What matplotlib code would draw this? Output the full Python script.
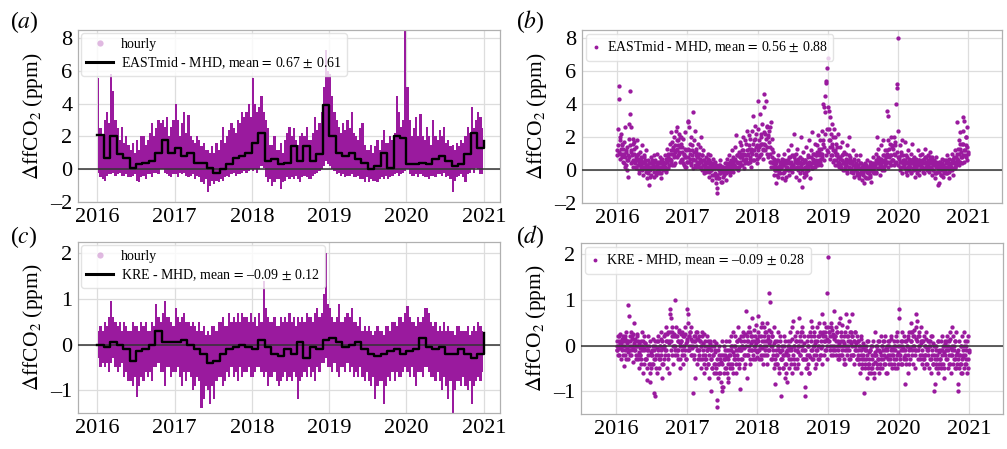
import matplotlib
matplotlib.use("Agg")
import matplotlib.pyplot as plt
from matplotlib.lines import Line2D

# ---------------- data ----------------
years = [2016, 2017, 2018, 2019, 2020, 2021]

# EASTmid - MHD monthly means (2016-01 .. 2020-12)
east_monthly = [2.1, 0.7, 2.0, 0.9, 0.7, 0.1, 0.3, 0.4, 0.5, 1.0, 1.8, 1.0,
                1.3, 0.8, 1.0, 0.4, 0.4, 0.1, -0.2, 0.0, 0.3, 0.7, 0.8, 1.0,
                1.6, 2.2, 0.5, 0.6, 0.3, 0.4, 1.4, 0.5, 1.4, 0.5, 0.9, 3.9,
                2.0, 1.0, 0.8, 1.0, 0.6, 0.4, 0.0, 0.2, 1.0, 0.1, 2.0, 1.9,
                0.3, 0.3, 0.4, 0.3, 0.6, 0.8, 0.5, 0.2, 0.3, 0.9, 2.2, 1.3]
east_monthly_end = 1.7

# KRE - MHD monthly means
kre_monthly = [0.0, -0.05, 0.05, 0.0, -0.1, -0.35, -0.15, -0.1, 0.0, 0.3, 0.05, 0.05,
               0.05, 0.1, 0.0, -0.1, -0.2, -0.4, -0.35, -0.2, -0.1, -0.05, 0.0, -0.05,
               -0.1, 0.1, -0.05, -0.2, -0.25, -0.1, -0.2, 0.05, -0.3, -0.05, -0.1, 0.1,
               0.15, 0.05, -0.05, 0.0, 0.05, -0.1, -0.2, -0.25, -0.2, -0.15, -0.1, -0.2,
               -0.15, -0.1, 0.15, -0.05, -0.1, -0.05, -0.2, -0.2, -0.1, -0.2, -0.3, -0.2]
kre_monthly_end = 0.25

# hourly envelope (upper / lower), three 10-day bins per month
east_hourly_hi = [
    [5.6, 2.5, 2.0], [3.0, 3.5, 2.8], [5.8, 4.8, 3.0], [2.5, 1.8, 2.6], [1.6, 2.0, 1.5], [1.2, 1.6, 1.0],
    [1.8, 1.2, 2.0], [2.0, 1.5, 1.8], [2.2, 2.8, 2.0], [2.5, 3.0, 2.8], [3.0, 2.6, 3.2], [2.0, 2.6, 3.0],
    [4.0, 3.0, 2.0], [2.8, 3.5, 2.2], [3.3, 2.0, 1.8], [1.6, 2.0, 1.8], [1.4, 1.6, 1.2], [1.2, 1.0, 1.4],
    [1.0, 1.6, 1.2], [1.8, 2.6, 1.6], [2.0, 2.4, 2.8], [2.5, 2.2, 3.0], [2.8, 3.5, 3.2], [3.5, 4.0, 3.2],
    [5.6, 4.0, 3.5], [3.8, 4.5, 3.5], [3.0, 2.5, 1.5], [1.5, 2.0, 1.2], [1.2, 1.6, 1.0], [1.8, 2.2, 2.6],
    [2.0, 2.5, 1.8], [1.5, 2.0, 2.2], [2.0, 2.6, 1.8], [1.8, 2.2, 3.2], [2.4, 2.8, 3.5], [5.0, 7.3, 6.0],
    [5.8, 4.5, 3.5], [3.0, 2.6, 2.2], [2.8, 2.4, 3.0], [2.5, 3.5, 2.2], [2.0, 1.8, 2.5], [2.8, 1.5, 1.2],
    [1.2, 1.5, 1.0], [1.4, 1.8, 1.2], [1.8, 2.4, 1.6], [1.6, 2.0, 1.8], [2.2, 4.5, 3.5], [2.6, 3.0, 8.5],
    [5.0, 3.0, 2.0], [2.5, 3.2, 2.0], [3.4, 2.0, 1.8], [2.6, 2.0, 1.5], [3.0, 2.0, 1.8], [2.4, 2.0, 2.6],
    [1.6, 1.8, 1.4], [1.5, 1.2, 1.6], [1.4, 1.8, 1.6], [2.0, 2.6, 2.2], [3.8, 2.5, 3.0], [3.5, 3.2, 2.5]]
east_hourly_lo = [
    [-0.2, -0.5, -0.6], [-0.7, -0.4, -0.3], [-0.3, -0.2, -0.4], [-0.3, -0.2, -0.4], [-0.4, -0.3, -0.5], [-0.5, -0.4, -0.3],
    [-0.7, -0.8, -0.5], [-0.4, -0.6, -0.3], [-0.3, -0.5, -0.2], [-0.2, -0.3, 0.0], [0.0, -0.2, -0.3], [-0.4, -0.5, -0.3],
    [-0.3, -0.5, -0.2], [-0.3, -0.2, -0.4], [-0.5, -0.4, -0.3], [-0.6, -0.4, -0.5], [-0.8, -0.9, -0.6], [-1.4, -1.0, -0.7],
    [-0.9, -0.7, -0.8], [-0.6, -0.7, -0.5], [-0.4, -0.5, -0.3], [-0.2, -0.4, -0.3], [-0.3, -0.2, -0.1], [-0.2, -0.1, 0.0],
    [-0.1, 0.0, -0.2], [0.0, 0.2, 0.1], [-0.5, -0.8, -0.6], [-1.0, -0.8, -0.6], [-0.6, -1.2, -0.8], [-0.7, -0.5, -0.6],
    [-0.5, -0.6, -0.4], [-0.6, -0.8, -0.5], [-0.4, -0.5, -0.6], [-0.6, -0.4, -0.3], [-0.2, -0.1, 0.0], [0.2, 0.5, 0.3],
    [0.2, 0.0, -0.1], [-0.3, -0.2, -0.4], [-0.3, -0.5, -0.4], [-0.4, -0.3, -0.5], [-0.5, -0.4, -0.6], [-0.6, -0.8, -0.5],
    [-0.8, -0.6, -0.7], [-0.7, -0.8, -0.6], [-0.5, -0.6, -0.4], [-0.6, -0.5, -0.4], [-0.3, -0.2, -0.4], [-0.3, -0.2, -0.1],
    [0.0, -0.3, -0.4], [-0.4, -0.3, -0.5], [-0.3, -0.4, -0.5], [-0.5, -0.6, -0.4], [-0.4, -0.5, -0.3], [-0.3, -0.4, -0.2],
    [-0.5, -0.4, -0.6], [-1.4, -0.7, -0.5], [-0.4, -0.3, -0.5], [-0.8, -0.3, -0.2], [0.0, -0.2, 0.1], [0.0, -0.3, -0.3]]

kre_hourly_hi = [
    [0.3, 0.4, 0.3], [0.5, 0.4, 0.6], [0.95, 0.6, 0.5], [0.4, 0.5, 0.3], [0.5, 0.4, 0.3], [0.3, 0.5, 0.4],
    [0.4, 0.3, 0.5], [0.4, 0.5, 0.3], [0.3, 0.5, 0.4], [0.9, 0.6, 0.5], [0.7, 0.95, 0.6], [0.6, 0.5, 0.4],
    [0.8, 0.6, 0.5], [0.6, 0.7, 0.5], [0.5, 0.4, 0.5], [0.4, 0.3, 0.5], [0.3, 0.4, 0.2], [0.3, 0.2, 0.4],
    [0.4, 0.3, 0.5], [0.5, 0.6, 0.4], [0.4, 0.7, 0.5], [0.6, 0.5, 0.7], [0.5, 0.7, 0.6], [0.6, 0.5, 0.7],
    [0.5, 0.6, 0.4], [0.7, 0.5, 1.4], [0.8, 0.6, 0.5], [0.5, 0.6, 0.4], [0.4, 0.6, 0.5], [0.6, 0.5, 0.7],
    [0.5, 0.6, 0.4], [0.6, 0.5, 0.6], [0.5, 0.7, 0.6], [0.6, 0.5, 0.7], [0.8, 0.6, 0.7], [1.1, 2.0, 0.9],
    [0.8, 0.6, 0.5], [0.6, 0.9, 0.5], [0.5, 0.6, 0.7], [0.6, 0.8, 0.5], [0.5, 0.4, 0.6], [0.3, 0.4, 0.3],
    [0.4, 0.3, 0.2], [0.3, 0.4, 0.3], [0.3, 0.2, 0.4], [0.4, 0.3, 0.5], [0.5, 0.4, 0.6], [0.6, 0.5, 0.7],
    [0.85, 0.6, 0.5], [0.5, 0.4, 0.6], [0.5, 0.6, 0.8], [0.8, 0.7, 0.5], [0.4, 0.5, 0.3], [0.4, 0.3, 0.5],
    [0.3, 0.4, 0.3], [0.3, 0.2, 0.4], [0.4, 0.3, 0.3], [0.3, 0.4, 0.2], [0.3, 0.4, 0.3], [0.5, 0.4, 0.3]]
kre_hourly_lo = [
    [-0.3, -0.5, -0.4], [-0.5, -0.4, -0.6], [-0.4, -0.3, -0.5], [-0.6, -0.5, -0.4], [-0.7, -0.6, -0.8], [-0.8, -0.9, -0.7],
    [-1.15, -0.9, -0.7], [-0.8, -0.6, -0.7], [-0.6, -0.8, -0.5], [-0.5, -0.4, -0.6], [-0.6, -0.9, -0.5], [-0.5, -0.7, -0.6],
    [-0.6, -0.5, -0.7], [-0.9, -0.6, -0.8], [-0.6, -0.7, -1.0], [-0.9, -0.7, -0.8], [-1.4, -1.2, -0.9], [-1.0, -1.3, -0.9],
    [-1.2, -0.8, -0.7], [-0.7, -0.9, -0.8], [-0.6, -0.7, -0.5], [-0.7, -0.6, -0.8], [-0.5, -0.7, -0.6], [-0.6, -0.5, -0.7],
    [-0.7, -0.6, -0.5], [-0.5, -0.6, -0.7], [-0.6, -0.9, -0.7], [-0.7, -0.6, -0.8], [-0.9, -0.8, -0.7], [-0.6, -0.8, -0.7],
    [-0.8, -0.6, -0.7], [-1.2, -0.8, -0.7], [-0.6, -0.7, -0.5], [-0.7, -0.6, -0.8], [-0.5, -0.6, -0.4], [-0.4, -0.3, -0.5],
    [-0.5, -0.6, -0.4], [-0.6, -0.7, -0.5], [-0.5, -0.6, -0.4], [-0.6, -0.5, -0.7], [-0.6, -0.7, -0.5], [-0.7, -0.8, -0.6],
    [-0.8, -0.9, -0.7], [-1.2, -0.9, -0.8], [-0.8, -1.3, -0.9], [-0.7, -0.8, -0.6], [-0.8, -0.6, -0.7], [-0.7, -0.6, -0.5],
    [-0.6, -0.7, -0.5], [-0.7, -0.9, -0.6], [-0.6, -0.7, -0.5], [-0.5, -0.6, -0.7], [-0.7, -0.8, -0.6], [-0.8, -1.0, -0.7],
    [-0.9, -1.2, -0.8], [-1.5, -1.0, -0.8], [-0.8, -0.9, -0.7], [-0.9, -1.0, -0.8], [-1.3, -0.9, -0.8], [-0.7, -0.8, -0.6]]

# daily values: ten scattered + eight core values per month
east_daily = [
    [1.2, 2.5, 5.1, 4.3, 1.8, 1.0, 2.2, 1.5, 0.8, 1.3],
    [0.9, 1.7, 0.4, 2.6, 1.1, 0.3, 1.4, 0.6, -0.4, 1.9],
    [2.8, 4.8, 3.4, 1.2, 2.6, 0.5, 1.6, 0.2, 1.0, 1.7],
    [0.6, 1.4, 0.1, 0.9, 1.8, 0.3, 0.7, -0.2, 1.1, 0.4],
    [0.2, 0.8, 1.5, 0.5, -0.3, 0.9, 0.1, 0.6, 1.2, 0.3],
    [0.1, -0.5, 0.6, 0.2, -0.9, 0.4, 0.0, 0.8, -0.3, 0.5],
    [0.3, 0.1, 0.9, -0.4, 0.2, 0.6, -0.1, 0.4, 1.0, 0.0],
    [0.5, -0.2, 0.2, 0.8, 0.1, -0.5, 0.4, 0.7, 0.0, 0.3],
    [0.2, 0.9, 0.4, -0.1, 1.3, 0.6, 0.1, 0.8, 0.3, 1.6],
    [1.0, 2.3, 0.6, 1.7, 0.3, 1.2, 2.0, 0.8, 1.5, 0.4],
    [2.4, 1.3, 2.6, 0.9, 1.8, 2.2, 1.1, 0.5, 1.6, 2.0],
    [1.4, 0.6, 1.9, 0.3, 1.0, 2.3, 0.8, 0.2, 1.2, 0.5],
    [2.9, 3.0, 2.6, 1.2, 0.7, 2.0, 0.4, 1.5, 0.9, 0.1],
    [3.5, 1.8, 0.6, 2.4, 0.2, 1.1, 0.8, 1.6, 0.3, 1.0],
    [0.5, 1.4, 0.2, 2.0, 0.9, 0.0, 0.6, 1.2, -0.2, 0.4],
    [0.3, 0.8, -0.1, 0.5, 1.0, 0.2, -0.4, 0.6, 0.1, 0.9],
    [0.0, 0.4, -0.6, 0.2, 0.7, -0.3, 0.1, 0.5, -0.8, 0.3],
    [-1.4, -1.1, 0.1, -0.5, 0.3, -0.2, 0.6, 0.0, -0.7, 0.2],
    [-0.4, 0.1, -0.2, 0.4, 0.0, -0.6, 0.2, 0.7, -0.1, 0.3],
    [0.2, 0.9, -0.3, 0.5, 0.1, 1.2, 0.4, -0.1, 0.8, 0.3],
    [0.6, 1.4, 0.2, 2.1, 0.5, 0.9, 0.0, 1.1, 0.4, 1.7],
    [0.8, 1.5, 0.3, 1.2, 2.0, 0.6, 1.0, 0.1, 1.8, 0.5],
    [1.6, 0.9, 2.4, 0.4, 1.3, 2.1, 0.7, 1.9, 0.2, 1.1],
    [2.4, 1.2, 3.3, 0.6, 1.8, 2.7, 1.0, 2.2, 0.4, 1.5],
    [4.2, 2.5, 1.4, 3.4, 0.9, 2.0, 1.6, 2.8, 0.7, 1.2],
    [4.6, 3.8, 2.2, 1.5, 4.2, 2.7, 1.0, 2.0, 0.8, 2.4],
    [2.6, 1.4, 2.9, 0.5, 1.9, 0.2, 1.1, -0.3, 0.7, 0.1],
    [0.3, -0.8, 0.6, 0.0, 0.9, -0.4, 0.2, 0.5, -0.2, 0.4],
    [0.1, 0.7, -0.5, 0.3, 1.0, -0.1, 0.4, -0.6, 0.2, 0.6],
    [0.5, 1.2, 0.0, 0.8, -0.3, 0.4, 1.5, 0.2, 0.9, -0.1],
    [0.3, 0.9, 2.2, 0.1, 0.6, -0.4, 1.3, 0.4, 0.0, 0.7],
    [0.2, -0.6, 0.8, 2.0, 0.4, -1.0, 0.1, 1.1, 0.5, -0.2],
    [0.6, 0.1, 1.4, -0.3, 0.3, 0.9, 0.0, 1.8, 0.4, -0.5],
    [0.4, 1.2, 0.1, 2.3, 0.7, 0.2, 1.0, 0.5, 1.6, 0.3],
    [0.9, 1.5, 0.4, 2.1, 1.1, 0.6, 1.8, 0.3, 1.3, 0.8],
    [2.4, 4.0, 1.6, 3.8, 3.5, 4.5, 5.3, 5.4, 6.2, 6.8],
    [3.8, 3.6, 2.5, 3.2, 1.8, 0.9, 2.8, 1.4, 0.5, 2.0],
    [2.5, 1.2, 2.0, 0.6, 1.6, 0.3, 1.0, 2.2, 0.8, 0.4],
    [0.7, 1.4, 0.2, 0.9, 1.7, 0.4, 0.0, 1.1, 0.5, 0.2],
    [0.3, 1.0, -0.2, 1.5, 0.6, 0.1, 2.0, 0.4, 0.8, -0.1],
    [0.5, 0.0, 1.2, 0.3, -0.4, 0.7, 0.1, 0.9, 0.2, -0.3],
    [0.2, 0.6, -0.5, 0.1, 0.9, -0.2, 0.4, 0.0, -0.6, 0.3],
    [-0.3, 0.2, -0.8, 0.4, 0.0, -0.5, 0.1, 0.6, -0.2, 0.2],
    [0.1, -0.4, 0.5, 0.0, -0.7, 0.3, 0.8, -0.1, 0.2, 0.4],
    [0.3, 1.0, -0.2, 2.0, 0.6, 0.1, 1.3, 0.4, -0.3, 0.7],
    [0.5, 1.5, 0.2, 0.9, 1.8, 0.0, 0.6, 1.2, 0.3, 0.8],
    [1.2, 3.6, 3.3, 1.8, 0.5, 1.6, 0.9, 2.0, 0.3, 1.4],
    [1.5, 0.6, 2.0, 1.0, 1.7, 0.4, 4.0, 5.0, 5.2, 8.0],
    [2.4, 0.8, 1.5, 0.2, 1.1, 0.5, 1.8, -0.2, 0.9, 0.3],
    [0.6, 1.7, 0.1, 0.9, -0.3, 0.5, 1.2, 0.2, 0.7, 0.0],
    [0.4, 1.0, -0.2, 0.6, 1.6, 0.1, 0.8, 0.3, -0.4, 0.5],
    [0.2, 0.7, 0.0, 1.2, 0.4, -0.3, 0.6, 0.9, 0.1, 0.3],
    [0.5, 1.0, 0.1, 0.7, -0.2, 0.4, 1.3, 0.2, 0.8, 0.0],
    [0.3, 0.9, -0.1, 0.5, 1.1, 0.2, 0.6, -0.3, 0.8, 0.4],
    [0.0, 0.6, -0.5, 0.3, 0.8, -0.2, 0.4, -0.9, 0.1, 0.5],
    [-0.8, 0.2, 0.5, -0.3, 0.7, 0.0, 0.3, -0.4, 0.6, 0.1],
    [0.2, 0.6, -0.2, 0.9, 0.1, 0.4, -0.5, 0.7, 0.3, 0.0],
    [0.4, 1.0, 0.1, 0.7, -0.3, 0.5, 1.2, 0.2, 0.8, 0.3],
    [1.0, 2.9, 0.6, 1.8, 0.3, 1.3, 2.3, 0.8, 1.6, 0.4],
    [3.2, 2.4, 1.2, 3.0, 0.9, 2.0, 1.5, 0.6, 2.6, 1.1]]

east_daily_core = [
    [0.9, 1.5, 1.1, 2.0, 0.7, 1.3, 1.6, 1.0], [0.5, 1.0, 0.2, 0.8, 1.2, 0.0, 0.6, 0.9],
    [0.8, 1.5, 0.4, 1.1, 0.9, 1.9, 0.6, 1.3], [0.4, 0.8, 0.2, 0.6, 1.0, 0.0, 0.5, 0.3],
    [0.3, 0.6, 0.0, 0.4, 0.8, 0.2, 0.5, -0.1], [0.0, 0.3, -0.2, 0.4, 0.1, -0.4, 0.2, 0.6],
    [0.1, 0.4, -0.1, 0.2, 0.5, -0.3, 0.3, 0.0], [0.2, 0.0, 0.4, -0.2, 0.6, 0.1, 0.3, 0.5],
    [0.4, 0.2, 0.7, 0.0, 0.5, 1.0, 0.3, 0.6], [0.7, 1.2, 0.5, 1.0, 1.4, 0.3, 0.9, 1.1],
    [1.2, 1.8, 0.8, 1.5, 1.0, 2.0, 1.4, 0.6], [0.7, 1.1, 0.4, 0.9, 1.3, 0.2, 0.8, 0.5],
    [0.8, 1.3, 0.5, 1.0, 1.6, 0.3, 1.2, 0.7], [0.6, 1.1, 0.3, 0.9, 1.3, 0.5, 0.8, 0.2],
    [0.4, 0.7, 0.1, 0.5, 0.9, 0.3, 0.6, 0.0], [0.2, 0.5, 0.0, 0.4, 0.7, -0.1, 0.3, 0.5],
    [0.0, 0.3, -0.3, 0.1, 0.4, -0.2, 0.2, -0.5], [-0.3, 0.1, -0.5, 0.0, 0.3, -0.2, -0.7, 0.2],
    [-0.1, 0.2, -0.3, 0.1, 0.4, -0.2, 0.0, 0.3], [0.1, 0.4, -0.1, 0.3, 0.6, 0.0, 0.5, 0.2],
    [0.3, 0.7, 0.1, 0.5, 0.9, 0.4, 0.2, 0.8], [0.5, 1.0, 0.3, 0.8, 1.2, 0.6, 0.9, 0.4],
    [0.7, 1.2, 0.4, 1.0, 1.5, 0.8, 0.5, 1.3], [1.0, 1.6, 0.6, 1.2, 1.9, 0.9, 1.4, 0.7],
    [1.2, 1.8, 0.8, 1.5, 2.2, 1.0, 1.6, 1.3], [1.6, 2.3, 1.2, 1.9, 2.6, 1.4, 2.1, 1.7],
    [0.5, 1.0, 0.2, 0.8, 1.3, 0.4, 0.6, 0.0], [0.0, 0.4, -0.3, 0.2, 0.6, -0.1, 0.3, 0.1],
    [0.1, 0.5, -0.2, 0.3, 0.6, 0.0, 0.4, -0.4], [0.2, 0.6, 0.0, 0.4, 0.8, 0.1, 0.5, 0.3],
    [0.3, 0.8, 0.1, 0.5, 1.0, 0.2, 0.6, 0.4], [0.1, 0.5, -0.2, 0.3, 0.7, 0.0, 0.4, -0.4],
    [0.2, 0.6, -0.1, 0.4, 0.8, 0.1, 0.5, 0.3], [0.3, 0.8, 0.1, 0.6, 1.0, 0.4, 0.2, 0.9],
    [0.6, 1.1, 0.3, 0.9, 1.3, 0.5, 1.0, 0.7], [1.0, 1.8, 0.6, 1.4, 2.2, 0.9, 2.5, 1.2],
    [1.1, 1.8, 0.7, 1.4, 2.2, 0.9, 1.6, 1.2], [0.6, 1.1, 0.3, 0.9, 1.4, 0.5, 0.8, 0.2],
    [0.3, 0.8, 0.1, 0.6, 1.0, 0.4, 0.5, 0.0], [0.3, 0.7, 0.0, 0.5, 0.9, 0.2, 0.6, 0.4],
    [0.1, 0.5, -0.2, 0.3, 0.6, 0.0, 0.4, 0.2], [-0.1, 0.3, -0.3, 0.1, 0.4, -0.2, 0.2, 0.0],
    [-0.2, 0.2, -0.4, 0.0, 0.3, -0.1, 0.1, -0.5], [-0.1, 0.3, -0.3, 0.1, 0.4, 0.0, 0.2, -0.2],
    [0.2, 0.6, -0.1, 0.4, 0.8, 0.1, 0.5, 0.3], [0.3, 0.7, 0.0, 0.5, 0.9, 0.2, 0.6, 0.4],
    [0.5, 1.0, 0.2, 0.8, 1.3, 0.4, 0.9, 0.6], [0.6, 1.3, 0.3, 0.9, 1.5, 0.5, 1.1, 0.8],
    [0.3, 0.7, 0.0, 0.5, 0.9, 0.2, 0.6, 0.4], [0.2, 0.6, -0.1, 0.4, 0.8, 0.1, 0.5, 0.3],
    [0.2, 0.6, -0.1, 0.4, 0.7, 0.0, 0.5, 0.3], [0.1, 0.5, -0.2, 0.3, 0.6, 0.0, 0.4, 0.2],
    [0.2, 0.6, -0.1, 0.4, 0.8, 0.1, 0.5, 0.3], [0.2, 0.6, 0.0, 0.4, 0.8, 0.1, 0.5, 0.3],
    [0.0, 0.4, -0.2, 0.2, 0.5, -0.1, 0.3, 0.1], [-0.1, 0.3, -0.3, 0.1, 0.4, 0.0, 0.2, -0.2],
    [0.0, 0.4, -0.2, 0.2, 0.5, -0.1, 0.3, 0.1], [0.2, 0.6, 0.0, 0.4, 0.8, 0.1, 0.5, 0.3],
    [0.7, 1.3, 0.4, 1.0, 1.6, 0.5, 1.1, 0.8], [0.9, 1.6, 0.5, 1.2, 2.0, 0.8, 1.4, 1.0]]

kre_daily = [
    [0.0, -0.1, 0.2, -0.2, 0.1, 0.25, -0.05, 0.05, -0.3, 0.1],
    [-0.1, 0.2, -0.45, 0.0, 0.15, -0.2, 0.3, -0.05, 0.1, -0.3],
    [0.9, 0.65, 0.1, -0.2, 0.3, -0.1, 0.0, 0.2, -0.35, 0.05],
    [0.5, -0.1, 0.15, -0.3, 0.0, 0.25, -0.2, 0.1, -0.5, -0.05],
    [-0.2, 0.1, -0.4, 0.0, 0.3, -0.6, -0.1, 0.2, -0.3, 0.05],
    [-0.3, 0.0, -0.75, -0.1, 0.2, -0.4, -0.8, 0.1, -0.2, -0.5],
    [-0.1, -0.4, 0.15, -1.05, -0.3, 0.0, -1.1, -0.2, 0.1, -0.6],
    [-0.2, 0.2, -0.5, 0.0, -0.3, 0.3, -0.1, -0.7, 0.1, -0.4],
    [0.0, -0.3, 0.25, -0.1, 0.4, -0.5, 0.1, -0.2, 0.3, -0.6],
    [0.8, 0.7, 0.6, 0.1, -0.2, 0.3, -0.4, 0.0, 0.2, -0.1],
    [1.0, 0.4, -0.1, 0.2, -0.3, 0.1, 0.35, -0.5, 0.0, 0.25],
    [0.1, -0.2, 0.3, -0.4, 0.0, 0.2, -0.1, 0.4, -0.3, 0.15],
    [0.8, 0.7, 0.5, 0.2, -0.1, 0.3, 0.0, 0.4, -0.2, 0.1],
    [-1.05, 0.1, -0.3, 0.2, -0.7, 0.0, 0.3, -0.4, 0.15, -0.1],
    [0.2, -0.2, 0.1, -0.5, 0.0, 0.3, -0.3, -0.1, 0.25, -0.6],
    [-0.3, 0.1, -0.5, -0.1, 0.2, -0.4, 0.0, -0.7, -0.2, 0.1],
    [-1.0, -0.3, 0.0, -0.5, -0.2, 0.1, -0.6, -0.1, -0.4, 0.05],
    [-1.2, -1.35, -0.4, -0.1, -0.6, 0.0, -0.3, -0.8, -0.2, 0.1],
    [-1.0, -0.9, -0.3, 0.0, -0.5, -0.2, 0.1, -0.6, -0.1, -0.4],
    [-0.8, -0.2, 0.1, -0.4, 0.2, -0.1, -0.5, 0.0, 0.3, -0.3],
    [0.0, -0.3, 0.2, -0.6, 0.1, -0.2, 0.4, -0.1, -0.4, 0.15],
    [-0.95, -0.1, 0.2, -0.3, 0.0, 0.3, -0.5, 0.1, -0.2, 0.25],
    [0.75, 0.1, -0.7, 0.3, -0.2, 0.0, 0.4, -0.4, 0.2, -0.1],
    [0.6, 0.2, -0.3, 0.1, 0.35, -0.1, 0.0, 0.45, -0.25, 0.15],
    [0.65, 0.3, -0.1, 0.2, 0.0, 0.4, -0.3, 0.1, 0.5, -0.2],
    [0.1, 0.4, -0.2, 0.3, 0.0, 0.5, -0.4, 0.2, -0.1, 0.35],
    [1.15, 0.95, 0.3, 0.0, -0.3, 0.2, -0.1, 0.4, -0.5, 0.1],
    [-0.85, -0.2, 0.1, -0.4, 0.0, 0.3, -0.6, -0.1, 0.2, -0.3],
    [-1.1, -0.3, 0.0, -0.5, 0.2, -0.2, -0.7, 0.1, -0.4, -0.1],
    [-0.8, -0.2, 0.1, -0.5, 0.0, 0.3, -0.3, -0.1, 0.4, -0.6],
    [0.55, 0.0, -0.3, 0.2, -0.5, 0.1, -0.1, 0.3, -0.4, 0.0],
    [0.6, 0.1, -0.2, 0.3, -0.6, 0.0, 0.4, -0.3, 0.2, -0.1],
    [-0.9, -1.1, -0.3, 0.1, -0.5, 0.0, 0.2, -0.2, -0.6, 0.3],
    [0.55, 0.2, -0.1, 0.4, -0.3, 0.0, 0.3, -0.5, 0.1, -0.2],
    [0.4, -0.1, 0.2, 0.0, 0.5, -0.3, 0.3, -0.2, 0.1, 0.25],
    [0.7, 0.3, 0.1, 0.5, -0.1, 0.2, 0.4, 0.0, 1.15, 1.95],
    [0.4, 0.1, 0.3, 0.0, 0.5, -0.2, 0.2, 0.35, -0.1, 0.15],
    [0.75, 0.2, -0.1, 0.4, 0.0, 0.3, -0.3, 0.1, 0.5, -0.2],
    [0.6, 0.1, 0.3, -0.2, 0.45, 0.0, 0.2, -0.4, 0.3, -0.1],
    [0.7, 0.4, -0.1, 0.2, 0.0, 0.55, -0.3, 0.1, 0.3, -0.2],
    [0.7, 0.2, -0.2, 0.1, -0.4, 0.3, 0.0, -0.1, 0.2, -0.3],
    [-0.2, 0.1, -0.4, 0.0, -0.6, -0.1, 0.2, -0.3, -0.5, 0.05],
    [-1.05, -0.3, -0.1, -0.5, 0.0, -0.2, -0.7, -0.4, 0.1, -0.6],
    [-0.4, -0.1, -0.6, 0.0, -0.3, -0.5, 0.1, -0.2, -0.7, -0.35],
    [0.3, -0.2, -0.5, 0.0, -0.3, 0.1, -0.6, -0.1, -0.4, 0.2],
    [-0.3, 0.0, -0.5, 0.1, -0.2, -0.4, 0.2, -0.1, -0.6, 0.0],
    [-0.6, -0.2, 0.0, -0.4, 0.1, -0.3, -0.1, 0.2, -0.5, -0.2],
    [-0.1, 0.1, -0.3, 0.0, -0.5, 0.2, -0.2, 0.3, -0.4, 0.0],
    [0.8, 0.6, -0.2, 0.1, -0.4, 0.0, 0.3, -0.1, 0.2, -0.3],
    [-0.85, -0.2, 0.1, -0.4, 0.0, 0.2, -0.6, -0.1, 0.3, -0.3],
    [0.5, 0.1, -0.2, 0.3, -0.4, 0.0, 0.2, -0.1, -0.5, 0.4],
    [0.7, 0.55, 0.2, -0.1, 0.3, 0.0, -0.3, 0.1, 0.4, -0.2],
    [0.1, -0.3, 0.2, -0.5, 0.0, -0.2, 0.3, -0.4, -0.1, 0.1],
    [-0.2, 0.0, -0.5, 0.1, -0.3, -0.6, 0.2, -0.1, -0.4, 0.0],
    [-1.0, -0.85, -0.3, 0.0, -0.5, -0.2, 0.1, -0.6, -0.1, -0.4],
    [-0.3, 0.1, -0.5, -0.1, 0.2, -0.4, 0.0, -0.7, -0.2, 0.1],
    [0.0, -0.3, 0.2, -0.5, -0.1, 0.1, -0.4, 0.3, -0.2, -0.6],
    [0.4, -0.1, 0.2, -0.3, 0.0, -0.5, 0.1, -0.2, 0.3, -0.4],
    [-1.0, -0.85, -0.2, 0.1, -0.4, 0.0, -0.6, 0.2, -0.3, -0.1],
    [-0.5, 0.3, -0.2, 0.1, -0.4, 0.0, -0.6, 0.2, -0.3, -0.1]]

kre_daily_core = [
    [0.1, -0.1, 0.0, 0.2, -0.2, 0.05, -0.05, 0.15], [0.0, -0.2, 0.1, -0.1, 0.2, -0.3, 0.05, -0.15],
    [0.1, -0.1, 0.2, 0.0, -0.2, 0.15, -0.05, 0.25], [-0.1, 0.1, -0.2, 0.0, 0.2, -0.3, 0.05, -0.15],
    [-0.2, 0.0, -0.3, -0.1, 0.1, -0.4, -0.05, 0.05], [-0.3, -0.1, -0.5, -0.2, 0.0, -0.4, -0.6, -0.15],
    [-0.2, 0.0, -0.4, -0.1, 0.1, -0.3, -0.5, -0.05], [-0.1, 0.1, -0.3, 0.0, -0.2, 0.15, -0.4, -0.05],
    [0.0, 0.2, -0.2, 0.1, -0.1, 0.25, -0.3, 0.05], [0.1, 0.3, -0.1, 0.2, 0.4, 0.0, 0.25, -0.2],
    [0.0, 0.2, -0.2, 0.1, -0.1, 0.3, -0.3, 0.05], [0.1, -0.1, 0.2, 0.0, -0.2, 0.25, -0.3, 0.05],
    [0.1, -0.1, 0.2, 0.0, 0.3, -0.2, 0.15, -0.05], [0.0, 0.2, -0.2, 0.1, 0.3, -0.1, 0.15, -0.3],
    [-0.1, 0.1, -0.3, 0.0, 0.2, -0.2, 0.05, -0.4], [-0.2, 0.0, -0.3, -0.1, 0.1, -0.4, -0.05, 0.05],
    [-0.3, -0.1, -0.5, -0.2, 0.0, -0.4, -0.15, -0.6], [-0.5, -0.3, -0.7, -0.4, -0.2, -0.6, -0.35, -0.9],
    [-0.4, -0.2, -0.6, -0.3, -0.1, -0.5, -0.25, -0.7], [-0.3, -0.1, -0.5, -0.2, 0.0, -0.4, -0.15, -0.6],
    [-0.2, 0.0, -0.4, -0.1, 0.1, -0.3, -0.05, -0.5], [-0.1, 0.1, -0.3, 0.0, 0.2, -0.2, -0.05, -0.4],
    [0.0, 0.2, -0.2, 0.1, -0.1, 0.3, -0.3, 0.05], [-0.1, 0.1, -0.2, 0.0, 0.2, -0.3, 0.05, -0.15],
    [-0.1, 0.1, -0.3, 0.0, 0.2, -0.2, -0.05, -0.4], [0.0, 0.2, -0.1, 0.1, 0.3, -0.2, 0.15, 0.05],
    [-0.1, 0.1, -0.3, 0.0, 0.2, -0.2, 0.05, -0.4], [-0.3, -0.1, -0.4, -0.2, 0.0, -0.5, -0.15, 0.1],
    [-0.3, -0.1, -0.5, -0.2, 0.0, -0.4, -0.6, -0.15], [-0.2, 0.0, -0.3, -0.1, 0.1, -0.4, -0.05, 0.15],
    [-0.2, 0.0, -0.4, -0.1, 0.1, -0.3, -0.5, -0.15], [0.0, 0.2, -0.2, 0.1, -0.1, 0.3, -0.3, 0.05],
    [-0.3, -0.1, -0.5, -0.2, 0.0, -0.4, -0.6, -0.25], [-0.1, 0.1, -0.3, 0.0, 0.2, -0.2, 0.05, -0.4],
    [-0.1, 0.1, -0.3, 0.0, 0.2, -0.2, -0.05, -0.4], [0.0, 0.2, -0.2, 0.1, 0.3, -0.1, 0.15, -0.3],
    [0.1, 0.3, -0.1, 0.2, 0.4, 0.0, 0.25, -0.2], [0.0, 0.2, -0.2, 0.1, 0.3, -0.1, 0.05, -0.3],
    [0.0, 0.2, -0.2, -0.1, 0.1, -0.3, 0.05, -0.4], [0.0, 0.2, -0.2, 0.1, -0.1, 0.3, -0.3, 0.05],
    [0.0, 0.2, -0.2, 0.1, 0.3, -0.1, 0.05, -0.3], [-0.1, 0.1, -0.3, 0.0, -0.2, 0.15, -0.4, -0.05],
    [-0.2, 0.0, -0.4, -0.1, -0.3, 0.1, -0.5, -0.15], [-0.3, -0.1, -0.5, -0.2, 0.0, -0.4, -0.6, -0.15],
    [-0.2, 0.0, -0.4, -0.1, -0.3, 0.1, -0.5, -0.15], [-0.2, 0.0, -0.3, -0.1, 0.1, -0.4, -0.05, -0.25],
    [-0.1, 0.1, -0.3, 0.0, -0.2, 0.15, -0.4, -0.05], [-0.2, 0.0, -0.4, -0.1, -0.3, 0.1, -0.5, -0.15],
    [-0.2, 0.0, -0.3, -0.1, 0.1, -0.4, -0.05, -0.25], [-0.1, 0.1, -0.3, 0.0, -0.2, 0.15, -0.4, -0.05],
    [0.1, 0.3, -0.1, 0.2, 0.0, 0.35, -0.2, 0.15], [-0.1, 0.1, -0.3, 0.0, 0.2, -0.2, 0.05, -0.4],
    [-0.1, 0.1, -0.3, 0.0, -0.2, 0.15, -0.4, -0.05], [-0.1, 0.1, -0.3, 0.0, 0.2, -0.2, 0.05, -0.4],
    [-0.2, 0.0, -0.4, -0.1, -0.3, 0.1, -0.5, -0.15], [-0.3, -0.1, -0.4, -0.2, 0.0, -0.5, -0.15, 0.05],
    [-0.1, 0.1, -0.3, 0.0, -0.2, 0.15, -0.4, -0.05], [-0.2, 0.0, -0.4, -0.1, -0.3, 0.1, -0.5, -0.15],
    [-0.3, -0.1, -0.5, -0.2, 0.0, -0.4, -0.6, -0.25], [-0.2, 0.0, -0.4, -0.1, -0.3, 0.1, -0.5, -0.15]]

hourly_label = "hourly"
east_month_label = r"EASTmid - MHD, mean$\,=\,$0.67$\,\pm\,$0.61"
east_daily_label = r"EASTmid - MHD, mean$\,=\,$0.56$\,\pm\,$0.88"
kre_month_label = r"KRE - MHD, mean$\,=\,$–0.09$\,\pm\,$0.12"
kre_daily_label = r"KRE - MHD, mean$\,=\,$–0.09$\,\pm\,$0.28"
ylabel = r"$\Delta$ffCO$_2$ (ppm)"

# ---------------- style ----------------
plt.rcParams["font.family"] = "serif"
plt.rcParams["font.serif"] = ["Liberation Serif", "DejaVu Serif"]
plt.rcParams["mathtext.fontset"] = "stix"

PURPLE = "#9a1a9e"
GRID = "#dddddd"
SPINE = "#b0b0b0"

fig = plt.figure(figsize=(10.07, 4.49), dpi=100)
W, H = 1007.0, 449.0


def add_ax(l, t, r, b):
    return fig.add_axes([l / W, 1 - b / H, (r - l) / W, (b - t) / H])


ax_a = add_ax(78, 30, 500, 202)
ax_b = add_ax(582, 30, 1002, 203)
ax_c = add_ax(78, 242, 500, 413)
ax_d = add_ax(581, 243, 1003, 414)

n_months = len(east_monthly)
month_x = [2016 + m / 12 for m in range(n_months)] + [2016 + n_months / 12]
bin_x = [2016 + (m + (k + 0.5) / 3) / 12 for m in range(n_months) for k in range(3)]
day_x = [2016 + (m + (k + 0.5) / 10) / 12 for m in range(n_months) for k in range(10)]
core_x = [2016 + (m + (k + 0.3) / 8) / 12 for m in range(n_months) for k in range(8)]


def style(ax, xlim, ylim, yticks):
    ax.set_xlim(*xlim)
    ax.set_ylim(*ylim)
    ax.set_xticks(years)
    ax.set_xticklabels([str(y) for y in years])
    ax.set_yticks(yticks)
    ax.set_yticklabels([("–" + str(abs(v))) if v < 0 else str(v) for v in yticks])
    ax.grid(True, color=GRID, lw=0.9)
    ax.set_axisbelow(True)
    for s in ax.spines.values():
        s.set_color(SPINE)
        s.set_linewidth(0.9)
    ax.tick_params(axis="both", labelsize=16, length=0, pad=4)
    ax.set_ylabel(ylabel, fontsize=15.5, labelpad=4)
    ax.axhline(0, color="#333333", lw=1.1, zorder=4)


def hourly_panel(ax, hi, lo, monthly, end_val, label, ylim, yticks):
    hi_f = [v for row in hi for v in row]
    lo_f = [v for row in lo for v in row]
    ax.fill_between(bin_x, lo_f, hi_f, step="mid", color=PURPLE, lw=0, zorder=2)
    ax.step(month_x, list(monthly) + [end_val], where="post", color="black", lw=1.7, zorder=5)
    style(ax, (2015.75, 2021.21), ylim, yticks)
    handles = [Line2D([], [], marker="o", ls="", color=PURPLE, alpha=0.3, markersize=4.5, mew=0),
               Line2D([], [], color="black", lw=2.2)]
    leg = ax.legend(handles, [hourly_label, label], loc="upper left", fontsize=10,
                    frameon=True, fancybox=True, framealpha=0.8, edgecolor="#dddddd",
                    handlelength=1.9, handletextpad=0.6, borderpad=0.35, labelspacing=0.3,
                    borderaxespad=0.25)
    leg.set_zorder(10)


def daily_panel(ax, daily, core, label, ylim, yticks):
    vals = [v for row in daily for v in row]
    core_vals = [v for row in core for v in row]
    ax.plot(core_x, core_vals, "o", color=PURPLE, ms=3.1, mew=0, zorder=3)
    ax.plot(day_x, vals, "o", color=PURPLE, ms=3.1, mew=0, zorder=3, label=label)
    style(ax, (2015.5, 2021.48), ylim, yticks)
    leg = ax.legend(loc="upper left", fontsize=10, frameon=True, framealpha=0.8,
                    edgecolor="#dddddd", handlelength=0.6, handletextpad=0.5,
                    borderpad=0.4, markerscale=0.9, borderaxespad=0.3)
    leg.set_zorder(10)


hourly_panel(ax_a, east_hourly_hi, east_hourly_lo, east_monthly, east_monthly_end,
             east_month_label, (-2, 8.5), [-2, 0, 2, 4, 6, 8])
daily_panel(ax_b, east_daily, east_daily_core, east_daily_label, (-2, 8.5), [-2, 0, 2, 4, 6, 8])
hourly_panel(ax_c, kre_hourly_hi, kre_hourly_lo, kre_monthly, kre_monthly_end,
             kre_month_label, (-1.5, 2.25), [-1, 0, 1, 2])
daily_panel(ax_d, kre_daily, kre_daily_core, kre_daily_label, (-1.5, 2.25), [-1, 0, 1, 2])

fig.text(10 / W, 1 - 22 / H, r"($a$)", fontsize=17, va="center", ha="left")
fig.text(516 / W, 1 - 22 / H, r"($b$)", fontsize=17, va="center", ha="left")
fig.text(10 / W, 1 - 237 / H, r"($c$)", fontsize=17, va="center", ha="left")
fig.text(516 / W, 1 - 237 / H, r"($d$)", fontsize=17, va="center", ha="left")

fig.savefig("out.png", dpi=100)
